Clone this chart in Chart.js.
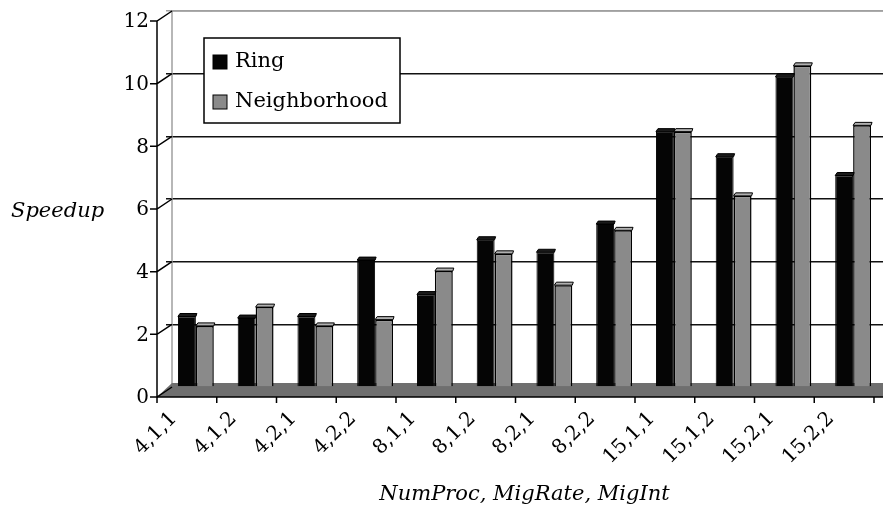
<!DOCTYPE html>
<html>
<head>
<meta charset="utf-8">
<script src="https://cdn.jsdelivr.net/npm/chart.js@4.4.1/dist/chart.umd.min.js"></script>
<style>
  html, body { margin: 0; padding: 0; background: #fff; }
  #wrap { width: 883px; height: 515px; }
</style>
</head>
<body>
<div id="wrap"><canvas id="chart" width="883" height="515"></canvas></div>
<script>
const categories = ['4,1,1', '4,1,2', '4,2,1', '4,2,2', '8,1,1', '8,1,2', '8,2,1', '8,2,2', '15,1,1', '15,1,2', '15,2,1', '15,2,2'];
const ringValues = [2.25, 2.2, 2.25, 4.05, 2.95, 4.7, 4.3, 5.2, 8.15, 7.35, 9.9, 6.75];
const neighborhoodValues = [1.95, 2.55, 1.95, 2.15, 3.7, 4.25, 3.25, 5.0, 8.15, 6.1, 10.25, 8.35];
const yTicks = [0, 2, 4, 6, 8, 10, 12];

const serif = "'DejaVu Serif', 'Liberation Serif', serif";
const DEPTH_X = 9;   // front edge of the fake 3D floor, left of the back wall
const DEPTH_Y = 10;  // and below it

// floor, front axes and back wall edges of the old 3D chart
const frame3d = {
  id: 'frame3d',
  beforeDatasetsDraw(chart) {
    const { ctx, chartArea: a, scales } = chart;
    const y0 = scales.y.getPixelForValue(0);
    const wallX = a.left + 6;
    ctx.save();

    // back wall edges
    ctx.strokeStyle = '#a0a0a0';
    ctx.lineWidth = 1.5;
    ctx.beginPath();
    ctx.moveTo(wallX, y0 - 3);
    ctx.lineTo(wallX, a.top);
    ctx.lineTo(a.right, a.top);
    ctx.stroke();

    // floor
    ctx.fillStyle = '#6f6f6f';
    ctx.beginPath();
    ctx.moveTo(wallX, y0 - 4);
    ctx.lineTo(a.right, y0 - 4);
    ctx.lineTo(a.right, y0 + DEPTH_Y);
    ctx.lineTo(a.left - DEPTH_X, y0 + DEPTH_Y);
    ctx.closePath();
    ctx.fill();

    // front value axis with slanted links to the back wall
    const fx = a.left - DEPTH_X;
    ctx.strokeStyle = '#000';
    ctx.lineWidth = 1.5;
    ctx.beginPath();
    ctx.moveTo(fx, scales.y.getPixelForValue(12) + DEPTH_Y);
    ctx.lineTo(fx, y0 + DEPTH_Y);
    yTicks.forEach((v) => {
      const py = scales.y.getPixelForValue(v);
      ctx.moveTo(fx - 7, py + DEPTH_Y);
      ctx.lineTo(fx, py + DEPTH_Y);
      ctx.lineTo(wallX, py);
    });
    ctx.stroke();

    // front category axis
    const fy = y0 + DEPTH_Y;
    const step = (a.right - a.left) / categories.length;
    ctx.beginPath();
    ctx.moveTo(fx, fy);
    ctx.lineTo(a.right, fy);
    for (let i = 0; i <= categories.length; i++) {
      const tx = fx + i * step;
      ctx.moveTo(tx, fy);
      ctx.lineTo(tx, fy + 6);
    }
    ctx.stroke();
    ctx.restore();
  },
  afterDatasetsDraw(chart) {
    // thin slanted lid on each bar
    const { ctx } = chart;
    ctx.save();
    chart.data.datasets.forEach((ds, di) => {
      chart.getDatasetMeta(di).data.forEach((bar) => {
        const l = bar.x - bar.width / 2;
        const r = bar.x + bar.width / 2;
        ctx.beginPath();
        ctx.moveTo(l, bar.y);
        ctx.lineTo(l + 2, bar.y - 3);
        ctx.lineTo(r + 1, bar.y - 3);
        ctx.lineTo(r, bar.y);
        ctx.closePath();
        ctx.fillStyle = di === 0 ? '#1a1a1a' : '#b0b0b0';
        ctx.fill();
        ctx.strokeStyle = '#000';
        ctx.lineWidth = 1;
        ctx.stroke();
      });
    });
    ctx.restore();
  },
  afterDraw(chart) {
    const { ctx } = chart;
    ctx.save();
    ctx.fillStyle = '#000';
    ctx.font = 'italic 21px ' + serif;
    ctx.textBaseline = 'middle';
    ctx.textAlign = 'left';
    ctx.fillText('Speedup', 11, 212);
    ctx.restore();
  }
};

// boxed legend inside the plot, as in the original
const boxLegend = {
  id: 'boxLegend',
  afterDraw(chart) {
    const { ctx } = chart;
    const x = 204, y = 38, w = 196, h = 85;
    ctx.save();
    ctx.fillStyle = '#fff';
    ctx.fillRect(x, y, w, h);
    ctx.strokeStyle = '#000';
    ctx.lineWidth = 1.5;
    ctx.strokeRect(x, y, w, h);
    ctx.font = '21px ' + serif;
    ctx.textBaseline = 'middle';
    chart.data.datasets.forEach((ds, i) => {
      const cy = y + 24 + i * 40;
      ctx.fillStyle = ds.backgroundColor;
      ctx.fillRect(x + 9, cy - 7, 14, 14);
      ctx.strokeStyle = '#000';
      ctx.lineWidth = 1;
      ctx.strokeRect(x + 9, cy - 7, 14, 14);
      ctx.fillStyle = '#000';
      ctx.fillText(ds.label, x + 31, cy);
    });
    ctx.restore();
  }
};

new Chart(document.getElementById('chart'), {
  type: 'bar',
  data: {
    labels: categories,
    datasets: [
      {
        label: 'Ring',
        data: ringValues,
        backgroundColor: '#050505',
        borderColor: '#000',
        borderWidth: 1,
        categoryPercentage: 0.6,
        barPercentage: 1.0
      },
      {
        label: 'Neighborhood',
        data: neighborhoodValues,
        backgroundColor: '#8a8a8a',
        borderColor: '#000',
        borderWidth: 1.5,
        categoryPercentage: 0.6,
        barPercentage: 1.0
      }
    ]
  },
  options: {
    responsive: false,
    animation: false,
    layout: { padding: { top: 11, left: 0, right: 0, bottom: 0 } },
    plugins: {
      legend: { display: false },
      tooltip: { enabled: false }
    },
    scales: {
      x: {
        afterFit(scale) { scale.height = 128; },
        grid: { display: false },
        border: { display: false },
        ticks: {
          autoSkip: false,
          minRotation: 45,
          maxRotation: 45,
          padding: 12,
          labelOffset: -22,
          color: '#000',
          font: { family: serif, size: 20 }
        },
        title: {
          display: true,
          text: 'NumProc, MigRate, MigInt',
          color: '#000',
          font: { family: serif, size: 21, style: 'italic' },
          padding: { top: 0, bottom: 8 }
        }
      },
      y: {
        min: 0,
        max: 12,
        afterFit(scale) {
          scale.width = 166;
          scale.paddingTop = 0;
          scale.paddingBottom = 0;
        },
        afterBuildTicks(scale) { scale.ticks = yTicks.map((v) => ({ value: v })); },
        border: { display: false },
        grid: {
          drawTicks: false,
          lineWidth: 1.6,
          color: (c) => (c.tick.value === 12 ? '#a0a0a0' : c.tick.value === 0 ? 'rgba(0,0,0,0)' : '#111')
        },
        ticks: {
          padding: 17,
          labelOffset: 11,
          color: '#000',
          font: { family: serif, size: 20 }
        }
      }
    }
  },
  plugins: [frame3d, boxLegend]
});
</script>
</body>
</html>
